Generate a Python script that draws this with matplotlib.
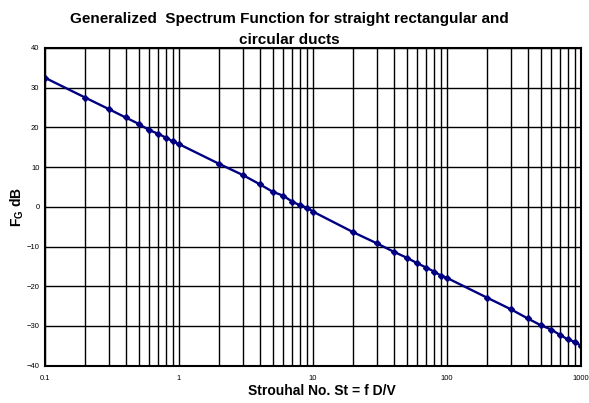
import numpy as np
import matplotlib
matplotlib.use('Agg')
import matplotlib.pyplot as plt
from matplotlib.ticker import FixedLocator, NullFormatter

# Strouhal numbers (1..9 per decade) and spectrum function values
st = [0.1, 0.2, 0.3, 0.4, 0.5, 0.6, 0.7, 0.8, 0.9,
      1, 2, 3, 4, 5, 6, 7, 8, 9,
      10, 20, 30, 40, 50, 60, 70, 80, 90,
      100, 200, 300, 400, 500, 600, 700, 800, 900, 1000]
fg_db = [32.5, 27.5, 24.6, 22.5, 20.9, 19.3, 18.4, 17.4, 16.5,
         15.8, 10.8, 8.0, 5.7, 3.8, 2.8, 1.3, 0.4, -0.2,
         -1.2, -6.4, -9.2, -11.3, -12.8, -14.2, -15.3, -16.3, -17.3,
         -17.9, -22.9, -25.8, -28.1, -29.8, -30.9, -32.3, -33.4, -34.0, -35.0]

x_ticks = [0.1, 1, 10, 100, 1000]
x_tick_labels = ['0.1', '1', '10', '100', '1000']
y_ticks = [-40, -30, -20, -10, 0, 10, 20, 30, 40]

plt.rcParams['font.family'] = ['Liberation Sans', 'DejaVu Sans']

fig = plt.figure(figsize=(5.89, 4.03), dpi=100)
ax = fig.add_axes([45/589, 1 - 365.7/403, (581 - 45)/589, (365.7 - 48)/403])

ax.set_xscale('log')
ax.set_xlim(0.1, 1000)
ax.set_ylim(-40, 40)

minor = [m * 10.0**e for e in range(-1, 3) for m in range(2, 10)]
ax.xaxis.set_major_locator(FixedLocator(x_ticks))
ax.xaxis.set_minor_locator(FixedLocator(minor))
ax.xaxis.set_minor_formatter(NullFormatter())
ax.set_xticks(x_ticks)
ax.set_xticklabels(x_tick_labels)
ax.set_yticks(y_ticks)

ax.grid(True, which='major', axis='both', color='black', linewidth=1.0)
ax.grid(True, which='minor', axis='x', color='black', linewidth=1.0)
ax.set_axisbelow(True)

ax.plot(st, fg_db, color='#000080', linewidth=1.7, marker='D', markersize=3)

for s in ax.spines.values():
    s.set_linewidth(1.5)

ax.tick_params(axis='both', which='both', length=0, labelsize=5.5, pad=4)
ax.tick_params(axis='x', pad=7)

fig.text(289/589, 1 - 19/403, 'Generalized  Spectrum Function for straight rectangular and',
         ha='center', va='center', fontsize=11, fontweight='bold')
fig.text(289/589, 1 - 40/403, 'circular ducts',
         ha='center', va='center', fontsize=11, fontweight='bold')

fig.text(322/589, 1 - 391/403, 'Strouhal No. St = f D/V',
         ha='center', va='center', fontsize=10, fontweight='bold')
fig.text(17/589, 1 - 207/403, r'F$_{\mathregular{G}}$ dB',
         ha='center', va='center', rotation=90, fontsize=10, fontweight='bold')

fig.savefig('out.png', dpi=100)
